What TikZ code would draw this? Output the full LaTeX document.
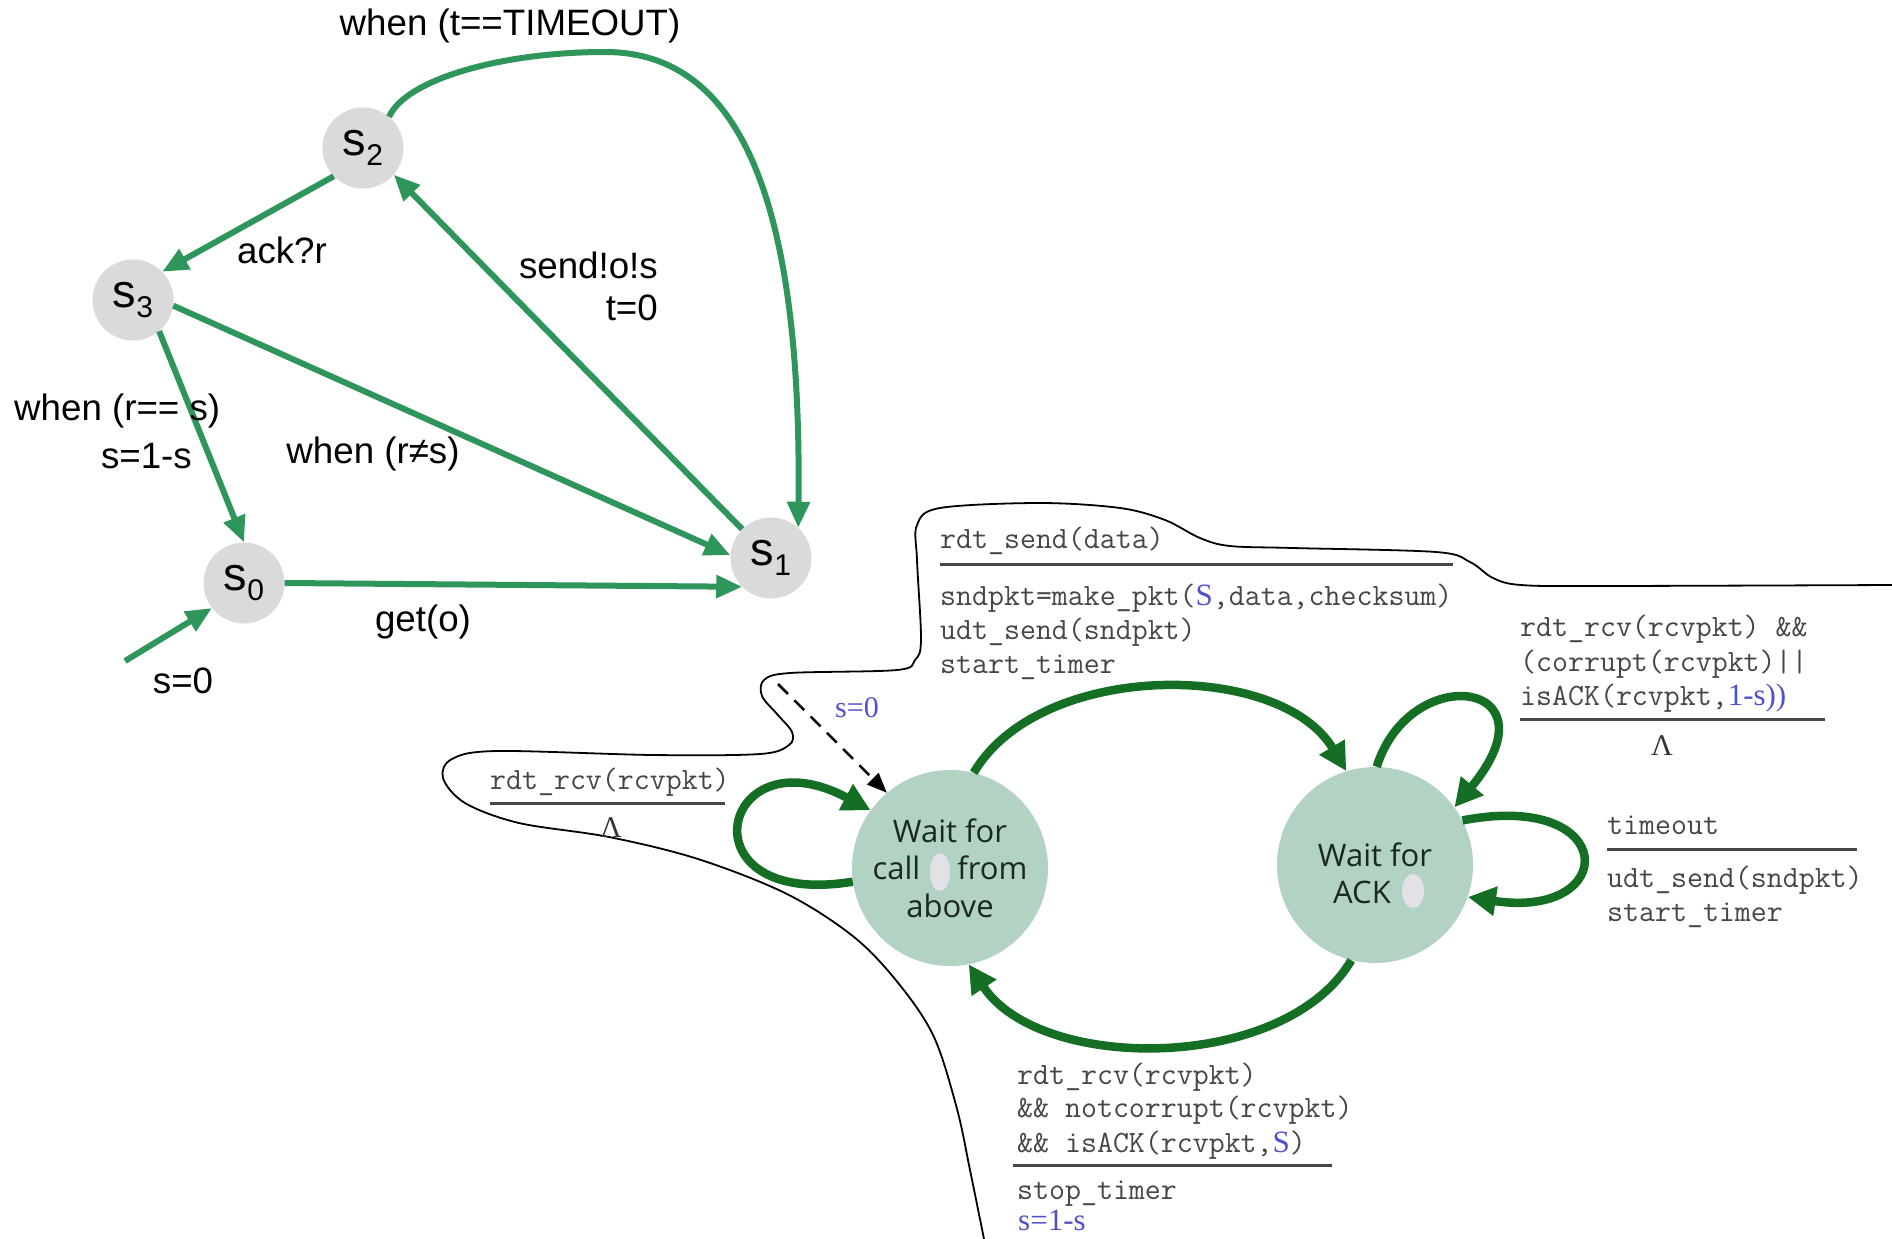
\documentclass[tikz,border=0pt]{standalone}
\usepackage{fontspec}
\setmainfont{Liberation Sans}
\newfontfamily\statefont{Open Sans}
\newfontfamily\blueserif{Liberation Serif}
\usetikzlibrary{arrows.meta}

\definecolor{edgegreen}{RGB}{46,150,90}
\definecolor{fsmgreen}{RGB}{20,110,35}
\definecolor{nodegrey}{RGB}{218,218,218}
\definecolor{statefill}{RGB}{178,211,195}
\definecolor{statetextcol}{RGB}{25,40,32}
\definecolor{codegrey}{RGB}{70,70,70}
\definecolor{varblue}{RGB}{80,80,205}
\definecolor{blobgrey}{RGB}{226,226,230}

\newcommand\lbl{\fontsize{36.7}{42}\selectfont}
\newcommand\statetext{\statefont\fontsize{31}{37.5}\selectfont}
\newcommand\codefont{\fontsize{31}{34}\selectfont\ttfamily\addfontfeature{FakeBold=0.4}}
\newcommand\vb[1]{{\color{varblue}\blueserif #1}}
\newcommand\sname[1]{{\fontsize{47}{47}\selectfont s}\raisebox{-10pt}{\fontsize{30}{30}\selectfont #1}}

\begin{document}
\begin{tikzpicture}[x=1pt,y=-1pt,
  pstate/.style={circle,fill=nodegrey,minimum size=81pt,inner sep=0pt,text=black},
  pedge/.style={draw=edgegreen,line width=6pt,-{Triangle[length=26pt,width=22pt]}},
  plabel/.style={font=\lbl,inner sep=0pt},
  fstate/.style={circle,fill=statefill,minimum size=196pt,inner sep=0pt,align=center,font=\statetext,text=statetextcol},
  fedge/.style={draw=fsmgreen,line width=8.5pt,-{Triangle[length=28pt,width=28pt]}},
  initarrow/.style={draw=black,line width=2.5pt,dash pattern=on 14pt off 9pt,-{Triangle[length=20pt,width=16pt]}},
  code/.style={anchor=base west,inner sep=0pt,font=\codefont,text=codegrey},
  lambda/.style={inner sep=0pt,font=\blueserif\fontsize{30}{30}\selectfont,text=black!80},
  rule/.style={draw=codegrey,line width=3pt},
  outline/.style={draw=black,line width=1.8pt},
  blob/.style={fill=blobgrey}
]
\useasboundingbox[fill=white] (0,0) rectangle (1892,1239);

% freehand boundary around the sender machine
\draw[outline] plot[smooth,tension=0.55] coordinates {
  (984,1239) (970,1170) (957,1109) (934,1037) (899,984) (854,937) (787,894)
  (698,859) (609,837) (519,823) (465,803) (443,778) (452,759) (497,751)
  (653,755) (760,754) (789,745) (792,732) (777,714) (762,696) (764,680)
  (790,673) (897,670) (915,660) (921,640) (917,560) (917,525) (940,508)
  (1040,503) (1120,508) (1165,520) (1200,538) (1230,546) (1293,548)
  (1436,552) (1470,562) (1493,578) (1521,585) (1600,586) (1892,585)};

% ---------- abstract machine ----------
\node[pstate] (s2) at (363,148) {\sname{2}};
\node[pstate] (s3) at (133,300) {\sname{3}};
\node[pstate] (s0) at (244,583) {\sname{0}};
\node[pstate] (s1) at (771,558) {\sname{1}};

\coordinate (tm) at (605,52);
\coordinate (init) at (125,661);

\draw[pedge] (s2.224) -- (s3.44);
\draw[pedge] (s1.135) -- (s2.-41);
\draw[pedge] (s3.-8) -- (s1.176);
\draw[pedge] (s3.-50) -- (s0.90);
\draw[pedge] (s0.0) -- (s1.225);
\draw[pedge] (s2.50) .. controls (405,80) and (500,52) .. (tm)
                     .. controls (740,52) and (802,200) .. (s1.48);
\draw[pedge] (init) -- (s0.218);

\node[plabel] (ltimeout) at (510,26) {when (t==TIMEOUT)};
\node[plabel] (lack) at (282,250) {ack?r};
\node[plabel,anchor=east,align=right] (lsend) at (658,286) {send!o!s\\t=0};
\node[plabel,anchor=west] (leq) at (14,411) {when (r== s)};
\node[plabel,anchor=east] (lflip) at (192,456) {s=1-s};
\node[plabel] (lneq) at (373,454) {when (r≠s)};
\node[plabel] (lget) at (423,622) {get(o)};
\node[plabel] (linit) at (183,681) {s=0};

% ---------- rdt sender FSM ----------
\node[fstate] (call) at (950,868) {Wait for\\call\hspace{37pt}from\\above};
\node[fstate] (ack) at (1375,865) {\rule{0pt}{40pt}Wait for\\ACK\rule{26pt}{0pt}};
\fill[blob] (940,872) ellipse [x radius=10pt,y radius=19pt];
\fill[blob] (1413,891) ellipse [x radius=11pt,y radius=17pt];

\draw[fedge] (call.76) .. controls (1040,660) and (1280,660) .. (ack.107);
\draw[fedge] (ack.256) .. controls (1285,1073) and (1040,1073) .. (call.281);
\draw[fedge] (call.188) .. controls (680,910) and (720,730) .. (call.144);
\draw[fedge] (ack.89) .. controls (1410,660) and (1560,680) .. (ack.36);
\draw[fedge] (ack.27) .. controls (1620,790) and (1620,920) .. (ack.-19);

\coordinate (dstart) at (778,684);
\draw[initarrow] (dstart) -- (call.130);
\node[inner sep=0pt,text=varblue,font=\blueserif\fontsize{30}{30}\selectfont] (szero) at (857,708) {s=0};

% transition labels
\node[code] (c1) at (940,548) {rdt\_send(data)};
\draw[rule] (940,564) -- (1453,564);
\node[code] (c2) at (940,605) {sndpkt=make\_pkt(\vb{S},data,checksum)};
\node[code] (c3) at (940,639) {udt\_send(sndpkt)};
\node[code] (c4) at (940,673) {start\_timer};

\node[code] (c5) at (1520,636) {rdt\_rcv(rcvpkt) \&\&};
\node[code] (c6) at (1520,671) {(corrupt(rcvpkt)||};
\node[code] (c7) at (1520,705) {isACK(rcvpkt,\vb{1-s))}};
\draw[rule] (1520,719) -- (1825,719);
\node[lambda] (c8) at (1662,746) {Λ};

\node[code] (c9) at (1607,834) {timeout};
\draw[rule] (1607,849) -- (1857,849);
\node[code] (c10) at (1607,887) {udt\_send(sndpkt)};
\node[code] (c11) at (1607,921) {start\_timer};

\node[code] (c12) at (490,789) {rdt\_rcv(rcvpkt)};
\draw[rule] (490,803) -- (725,803);
\node[lambda] (c13) at (611,828) {Λ};

\node[code] (c14) at (1017,1084) {rdt\_rcv(rcvpkt)};
\node[code] (c15) at (1017,1117) {\&\& notcorrupt(rcvpkt)};
\node[code] (c16) at (1017,1152) {\&\& isACK(rcvpkt,\vb{S})};
\draw[rule] (1013,1165) -- (1332,1165);
\node[code] (c17) at (1017,1199) {stop\_timer};
\node[code,text=varblue] (c18) at (1018,1230) {\blueserif s=1-s};
\end{tikzpicture}
\end{document}
